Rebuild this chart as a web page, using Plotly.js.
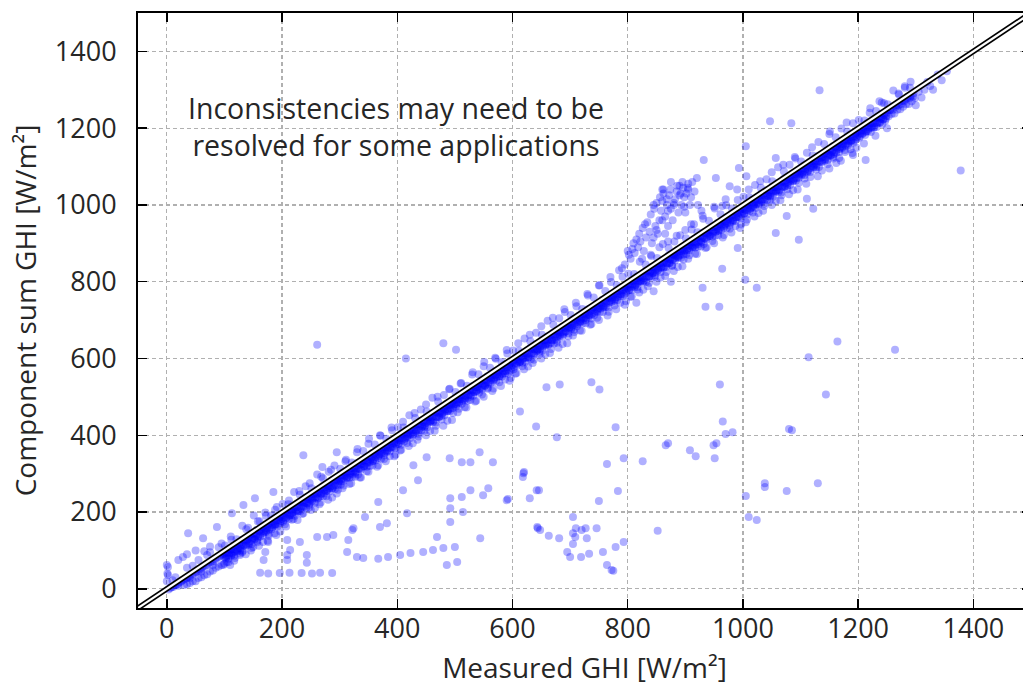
<!DOCTYPE html>
<html>
<head>
<meta charset="utf-8">
<script src="https://cdn.plot.ly/plotly-3.0.1.min.js"></script>
<style>html,body{margin:0;padding:0;overflow:hidden;background:#fff;}#chart{width:1040px;height:686px;}</style>
</head>
<body>
<div id="chart"></div>
<script>
// Measured GHI (x) vs component-sum GHI (y), W/m²
const bandX = [
  3,6,8,11,14,16,19,22,25,27, 30,33,35,38,41,44,47,50,52,55,
  58,61,63,66,69,72,75,78,81,84, 87,90,93,96,99,20,40,60,80,100,
  15,35,55,75,95,10,45,70,90,28, 30,40,50,60,70,80,90,100,55,65,75,85,95,45,35,
  100,105,110,115,120,125,130,135,140,145,150,155,160,165,170,175,180,185,190,195,
  102,107,112,117,122,127,132,137,142,147,152,157,162,167,172,177,182,187,192,197,
  200,205,210,215,220,225,230,235,240,245,250,255,260,265,270,275,280,285,290,295,
  202,207,212,217,222,227,232,237,242,247,252,257,262,267,272,277,282,287,292,297,
  300,305,310,315,320,325,330,335,340,345,350,355,360,365,370,375,380,385,390,395,
  302,307,312,317,322,327,332,337,342,347,352,357,362,367,372,377,382,387,392,397,
  400,405,410,415,420,425,430,435,440,445,450,455,460,465,470,475,480,485,490,495,
  402,407,412,417,422,427,432,437,442,447,452,457,462,467,472,477,482,487,492,497,
  500,505,510,515,520,525,530,535,540,545,550,555,560,565,570,575,580,585,590,595,
  502,507,512,517,522,527,532,537,542,547,552,557,562,567,572,577,582,587,592,597,
  600,605,610,615,620,625,630,635,640,645,650,655,660,665,670,675,680,685,690,695,
  602,607,612,617,622,627,632,637,642,647,652,657,662,667,672,677,682,687,692,697,
  700,705,710,715,720,725,730,735,740,745,750,755,760,765,770,775,780,785,790,795,
  702,707,712,717,722,727,732,737,742,747,752,757,762,767,772,777,782,787,792,797,
  800,805,810,815,820,825,830,835,840,845,850,855,860,865,870,875,880,885,890,895,
  802,807,812,817,822,827,832,837,842,847,852,857,862,867,872,877,882,887,892,897,
  900,905,910,915,920,925,930,935,940,945,950,955,960,965,970,975,980,985,990,995,
  902,907,912,917,922,927,932,937,942,947,952,957,962,967,972,977,982,987,992,997,
  1000,1005,1010,1015,1020,1025,1030,1035,1040,1045,1050,1055,1060,1065,1070,1075,1080,1085,1090,1095,
  1002,1007,1012,1017,1022,1027,1032,1037,1042,1047,1052,1057,1062,1067,1072,1077,1082,1087,1092,1097,
  1100,1105,1110,1115,1120,1125,1130,1135,1140,1145,1150,1155,1160,1165,1170,1175,1180,1185,1190,1195,
  1102,1107,1112,1117,1122,1127,1132,1137,1142,1147,1152,1157,1162,1167,1172,1177,1182,1187,1192,1197,
  1200,1205,1210,1215,1220,1225,1230,1235,1240,1245,1250,1255,1260,1265,1270,1275,1280,1285,1290,1295,
  1202,1207,1212,1217,1222,1227,1232,1237,1242,1247
];
const bandY = [
  -2,2,4,5,9,10,12,17,19,22, 24,27,29,31,35,38,40,44,45,49,
  51,54,57,60,62,65,69,71,73,77, 80,83,86,89,90,8,28,45,62,82,
  30,55,75,95,118,22,60,88,108,83, 10,15,20,30,38,48,58,65,28,35,45,55,62,20,12,
  92,94,101,103,110,118,117,126,129,135,142,143,150,156,157,164,172,175,178,186,
  78,78,86,86,100,99,99,112,115,117,129,125,136,138,148,143,155,165,162,171,
  190,198,198,206,209,212,222,225,231,233,239,247,247,255,261,264,268,278,280,284,
  175,184,182,192,190,201,203,215,211,219,228,224,235,242,242,254,253,261,260,269,
  288,296,300,307,307,314,321,323,333,335,339,342,351,357,358,365,369,376,377,385,
  272,281,290,289,291,302,298,310,319,318,320,333,334,341,339,347,357,358,370,366,
  391,393,402,404,410,412,421,428,428,434,440,447,447,456,459,463,470,477,479,482,
  377,375,384,394,392,400,408,404,413,421,421,435,434,433,447,450,452,463,463,471,
  492,494,501,503,510,518,517,526,529,535,542,543,550,556,557,564,572,575,578,586,
  475,484,482,492,490,501,503,515,511,519,528,524,535,542,542,554,553,561,560,569,
  590,598,598,606,609,612,622,625,631,633,639,647,647,655,661,664,668,678,680,684,
  572,581,590,589,591,602,598,610,619,618,620,633,634,641,639,647,657,658,670,666,
  688,696,700,707,707,714,721,723,733,735,739,742,751,757,758,765,769,776,777,785,
  677,675,684,694,692,700,708,704,713,721,721,735,734,733,747,750,752,763,763,771,
  791,793,802,804,810,812,821,828,828,834,840,847,847,856,859,863,870,877,879,882,
  778,778,786,786,800,799,799,812,815,817,829,825,836,838,848,843,855,865,862,871,
  892,894,901,903,910,918,917,926,929,935,942,943,950,956,957,964,972,975,978,986,
  872,881,890,889,891,902,898,910,919,918,920,933,934,941,939,947,957,958,970,966,
  990,998,998,1006,1009,1012,1022,1025,1031,1033,1039,1047,1047,1055,1061,1064,1068,1078,1080,1084,
  977,975,984,994,992,1000,1008,1004,1013,1021,1021,1035,1034,1033,1047,1050,1052,1063,1063,1071,
  1088,1096,1100,1107,1107,1114,1121,1123,1133,1135,1139,1142,1151,1157,1158,1165,1169,1176,1177,1185,
  1078,1078,1086,1086,1100,1099,1099,1112,1115,1117,1129,1125,1136,1138,1148,1143,1155,1165,1162,1171,
  1191,1193,1202,1204,1210,1212,1221,1228,1228,1234,1240,1247,1247,1256,1259,1263,1270,1277,1279,1282,
  1175,1184,1182,1192,1190,1201,1203,1215,1211,1219
];
// core of the dense band, hugging the 1:1 line and just below it
const bandMidX = [
  101,106,111,116,121,126,131,136,141,146,151,156,161,166,171,176,181,186,191,196,
  201,206,211,216,221,226,231,236,241,246,251,256,261,266,271,276,281,286,291,296,
  301,306,311,316,321,326,331,336,341,346,351,356,361,366,371,376,381,386,391,396,
  401,406,411,416,421,426,431,436,441,446,451,456,461,466,471,476,481,486,491,496,
  501,506,511,516,521,526,531,536,541,546,551,556,561,566,571,576,581,586,591,596,
  601,606,611,616,621,626,631,636,641,646,651,656,661,666,671,676,681,686,691,696,
  701,706,711,716,721,726,731,736,741,746,751,756,761,766,771,776,781,786,791,796,
  801,806,811,816,821,826,831,836,841,846,851,856,861,866,871,876,881,886,891,896,
  901,906,911,916,921,926,931,936,941,946,951,956,961,966,971,976,981,986,991,996,
  1001,1006,1011,1016,1021,1026,1031,1036,1041,1046,1051,1056,1061,1066,1071,1076,1081,1086,1091,1096,
  1101,1106,1111,1116,1121,1126,1131,1136,1141,1146,1151,1156,1161,1166,1171,1176,1181,1186,1191,1196,
  1201,1206,1211,1216,1221,1226,1231,1236,1241,1246,1251,1256,1261,1266,1271,1276,1281,1286,1291,1296,
  103,108,113,118,123,128,133,138,143,148,153,158,163,168,173,178,183,188,193,198,
  203,208,213,218,223,228,233,238,243,248,253,258,263,268,273,278,283,288,293,298,
  303,308,313,318,323,328,333,338,343,348,353,358,363,368,373,378,383,388,393,398,
  403,408,413,418,423,428,433,438,443,448,453,458,463,468,473,478,483,488,493,498,
  503,508,513,518,523,528,533,538,543,548,553,558,563,568,573,578,583,588,593,598,
  603,608,613,618,623,628,633,638,643,648,653,658,663,668,673,678,683,688,693,698,
  703,708,713,718,723,728,733,738,743,748,753,758,763,768,773,778,783,788,793,798,
  803,808,813,818,823,828,833,838,843,848,853,858,863,868,873,878,883,888,893,898,
  903,908,913,918,923,928,933,938,943,948,953,958,963,968,973,978,983,988,993,998,
  1003,1008,1013,1018,1023,1028,1033,1038,1043,1048,1053,1058,1063,1068,1073,1078,1083,1088,1093,1098,
  1103,1108,1113,1118,1123,1128,1133,1138,1143,1148,1153,1158,1163,1168,1173,1178,1183,1188,1193,1198,
  1203,1208,1213,1218,1223,1228,1233,1238,1243,1248,1253,1258,1263,1268,1273,1278,1283,1288,1293,1298
];
const bandMidY = [
  96,103,104,112,115,118,128,131,134,142,145,153,153,161,167,169,175,183,186,188,
  194,202,205,213,213,221,227,230,238,239,246,248,257,260,268,271,274,282,283,290,
  296,303,304,312,315,318,328,331,334,342,345,353,353,361,367,369,375,383,386,388,
  394,402,405,413,413,421,427,430,438,439,446,448,457,460,468,471,474,482,483,490,
  496,503,504,512,515,518,528,531,534,542,545,553,553,561,567,569,575,583,586,588,
  594,602,605,613,613,621,627,630,638,639,646,648,657,660,668,671,674,682,683,690,
  696,703,704,712,715,718,728,731,734,742,745,753,753,761,767,769,775,783,786,788,
  794,802,805,813,813,821,827,830,838,839,846,848,857,860,868,871,874,882,883,890,
  896,903,904,912,915,918,928,931,934,942,945,953,953,961,967,969,975,983,986,988,
  994,1002,1005,1013,1013,1021,1027,1030,1038,1039,1046,1048,1057,1060,1068,1071,1074,1082,1083,1090,
  1096,1103,1104,1112,1115,1118,1128,1131,1134,1142,1145,1153,1153,1161,1167,1169,1175,1183,1186,1188,
  1194,1202,1205,1213,1213,1221,1227,1230,1238,1239,1246,1248,1257,1260,1268,1271,1274,1282,1283,1290,
  81,88,89,97,98,105,113,116,119,127,130,133,143,146,152,154,160,168,168,176,
  179,187,190,198,201,203,212,214,223,225,231,237,238,248,249,256,262,263,270,278,
  281,288,289,297,298,305,313,316,319,327,330,333,343,346,352,354,360,368,368,376,
  379,387,390,398,401,403,412,414,423,425,431,437,438,448,449,456,462,463,470,478,
  481,488,489,497,498,505,513,516,519,527,530,533,543,546,552,554,560,568,568,576,
  579,587,590,598,601,603,612,614,623,625,631,637,638,648,649,656,662,663,670,678,
  681,688,689,697,698,705,713,716,719,727,730,733,743,746,752,754,760,768,768,776,
  779,787,790,798,801,803,812,814,823,825,831,837,838,848,849,856,862,863,870,878,
  881,888,889,897,898,905,913,916,919,927,930,933,943,946,952,954,960,968,968,976,
  979,987,990,998,1001,1003,1012,1014,1023,1025,1031,1037,1038,1048,1049,1056,1062,1063,1070,1078,
  1081,1088,1089,1097,1098,1105,1113,1116,1119,1127,1130,1133,1143,1146,1152,1154,1160,1168,1168,1176,
  1179,1187,1190,1198,1201,1203,1212,1214,1223,1225,1231,1237,1238,1248,1249,1256,1262,1263,1270,1278
];
// outer layer of the dense band, further below the 1:1 line
const bandLowX = [
  104,109,114,119,124,129,134,139,144,149,154,159,164,169,174,179,184,189,194,199,
  204,209,214,219,224,229,234,239,244,249,254,259,264,269,274,279,284,289,294,299,
  304,309,314,319,324,329,334,339,344,349,354,359,364,369,374,379,384,389,394,399,
  404,409,414,419,424,429,434,439,444,449,454,459,464,469,474,479,484,489,494,499,
  504,509,514,519,524,529,534,539,544,549,554,559,564,569,574,579,584,589,594,599,
  604,609,614,619,624,629,634,639,644,649,654,659,664,669,674,679,684,689,694,699,
  704,709,714,719,724,729,734,739,744,749,754,759,764,769,774,779,784,789,794,799,
  804,809,814,819,824,829,834,839,844,849,854,859,864,869,874,879,884,889,894,899,
  904,909,914,919,924,929,934,939,944,949,954,959,964,969,974,979,984,989,994,999,
  1004,1009,1014,1019,1024,1029,1034,1039,1044,1049,1054,1059,1064,1069,1074,1079,1084,1089,1094,1099,
  1104,1109,1114,1119,1124,1129,1134,1139,1144,1149,1154,1159,1164,1169,1174,1179,1184,1189,1194,1199,
  1204,1209,1214,1219,1224,1229,1234,1239,1244,1249,
  107,117,127,137,147,157,167,177,187,197, 207,217,227,237,247,257,267,277,287,297,
  307,317,327,337,347,357,367,377,387,397, 407,417,427,437,447,457,467,477,487,497,
  507,517,527,537,547,557,567,577,587,597, 607,617,627,637,647,657,667,677,687,697,
  707,717,727,737,747,757,767,777,787,797, 807,817,827,837,847,857,867,877,887,897,
  907,917,927,937,947,957,967,977,987,997, 1007,1017,1027,1037,1047,1057,1067,1077,1087,1097,
  1107,1117,1127,1137,1147,1157,1167,1177,1187,1197
];
const bandLowY = [
  86,94,93,102,105,113,112,125,124,131,137,138,149,150,158,159,166,167,179,182,
  187,194,192,201,204,213,215,224,223,232,236,239,250,247,258,260,267,268,279,281,
  286,294,293,302,305,313,312,325,324,331,337,338,349,350,358,359,366,367,379,382,
  387,394,392,401,404,413,415,424,423,432,436,439,450,447,458,460,467,468,479,481,
  486,494,493,502,505,513,512,525,524,531,537,538,549,550,558,559,566,567,579,582,
  587,594,592,601,604,613,615,624,623,632,636,639,650,647,658,660,667,668,679,681,
  686,694,693,702,705,713,712,725,724,731,737,738,749,750,758,759,766,767,779,782,
  787,794,792,801,804,813,815,824,823,832,836,839,850,847,858,860,867,868,879,881,
  886,894,893,902,905,913,912,925,924,931,937,938,949,950,958,959,966,967,979,982,
  987,994,992,1001,1004,1013,1015,1024,1023,1032,1036,1039,1050,1047,1058,1060,1067,1068,1079,1081,
  1086,1094,1093,1102,1105,1113,1112,1125,1124,1131,1137,1138,1149,1150,1158,1159,1166,1167,1179,1182,
  1187,1194,1192,1201,1204,1213,1215,1224,1223,1232,
  69,73,92,90,106,121,122,138,145,149, 162,180,179,197,212,211,225,241,238,258,
  269,273,292,290,306,321,322,338,345,349, 362,380,379,397,412,411,425,441,438,458,
  469,473,492,490,506,521,522,538,545,549, 562,580,579,597,612,611,625,641,638,658,
  669,673,692,690,706,721,722,738,745,749, 762,780,779,797,812,811,825,841,838,858,
  869,873,892,890,906,921,922,938,945,949, 962,980,979,997,1012,1011,1025,1041,1038,1058,
  1069,1073,1092,1090,1106,1121,1122,1138,1145,1149
];
// light scatter just above the 1:1 line
const aboveX = [
  101,111,121,131,141,151,161,171,181,191, 201,211,221,231,241,251,261,271,281,291,
  301,311,321,331,341,351,361,371,381,391, 401,411,421,431,441,451,461,471,481,491,
  501,511,521,531,541,551,561,571,581,591, 601,611,621,631,641,651,661,671,681,691,
  701,711,721,731,741,751,761,771,781,791, 801,811,821,831,841,851,861,871,881,891,
  901,911,921,931,941,951,961,971,981,991, 1001,1011,1021,1031,1041,1051,1061,1071,1081,1091,
  1101,1111,1121,1131,1141,1151,1161,1171,1181,1191, 1201,1211,1221,1231,1241,1251,1261,1271,1281,1291
];
const aboveY = [
  113,136,129,164,159,191,176,199,191,213, 221,220,252,245,267,262,298,288,305,321,
  313,336,329,364,359,391,376,399,391,413, 421,420,452,445,467,462,498,488,505,521,
  513,536,529,564,559,591,576,599,591,613, 621,620,652,645,667,662,698,688,705,721,
  713,736,729,764,759,791,776,799,791,813, 821,820,852,845,867,862,898,888,905,921,
  913,936,929,964,959,991,976,999,991,1013, 1021,1020,1052,1045,1067,1062,1098,1088,1105,1121,
  1113,1136,1129,1164,1159,1191,1176,1199,1191,1213, 1221,1220,1252,1245,1267,1262,1298,1288,1305,1321
];
const spreadX = [
  0,1,2,0,2,20,35,50,65,75,37,63,87,168,209,
  162,176,196,213,234,252,266,287,
  104,118,131,146,160,175,190,112,138,158,172,188,150,171,176,113,127,133,153,185,113,110,98,
  205,220,235,250,265,280,295,212,230,248,268,285,209,214,209,231,237,270,295,261,278,289,243,243,261,
  305,320,335,350,365,380,395,310,330,350,370,390,315,324,313,330,341,367,384,370,382,344,322,367,
  405,420,435,450,465,480,495,410,430,450,470,490,405,423,445,462,480,469,417,410,436,428,451,491,492,492,492,486,415,480,
  505,520,535,550,565,580,595,510,530,550,570,590,500,504,544,512,527,549,558,514,543,566,512,527,590,502,
  605,620,635,650,665,680,695,610,630,650,670,690,630,644,619,642,620,618,592,613,641,677,659,682,648,643,646,663,681,
  705,720,735,750,765,780,795,710,730,750,770,790,705,709,705,710,720,727,746,729,705,700,695,719,733,757,764,772,775,779,793,750,764,783,779,793,737,751,
  805,820,835,850,865,880,895,815,845,875,826,852,870,866,
  905,920,935,950,965,980,995,910,930,950,970,990,918,908,949,954,951,960,965,970,982,930,935,959,964,991,932,953,977,964,
  1005,1020,1035,1050,1065,1080,1095,1010,1030,1050,1070,1090,1005,1010,1024,1038,1038,1076,1080,1085,1004,1024,1057,1097,1076,1005,1047,1057,1084,1006,993,
  1110,1130,1150,1170,1190,1120,1150,1180,1114,1164,1144,1130,1111,1122,1133,1191,1162,
  1210,1230,1250,1220,1245,1270,1290,1305,1315,1325,1338,1354,1345,1378,1264,1213,1237,1281,1310,1320,1330,1300
];
const spreadY = [
  20,40,57,62,36,75,90,100,98,110,145,132,161,75,75,
  42,40,41,42,41,40,42,41,
  70,80,95,100,112,125,140,128,155,176,190,206,109,96,122,93,88,218,236,252,197,62,62,
  168,182,195,205,220,232,248,230,255,275,292,310,127,101,88,122,348,317,356,135,135,140,68,88,636,
  262,275,290,305,318,332,345,332,356,378,400,420,127,158,96,83,80,78,83,161,171,187,153,226,
  360,372,388,400,412,425,440,435,458,480,500,520,88,93,96,101,106,135,197,257,283,322,343,340,236,210,174,62,600,640,
  460,472,488,500,515,528,542,535,558,580,602,622,109,70,132,239,257,244,262,200,356,330,330,330,231,623,
  560,572,588,600,614,628,640,640,662,684,706,728,236,158,301,257,304,291,234,462,423,395,525,532,153,161,257,138,132,
  660,672,688,700,712,728,740,745,768,790,812,835,117,135,145,158,153,158,158,132,187,83,96,83,91,96,62,49,47,109,122,229,325,255,421,340,538,519,
  760,772,788,800,815,828,840,745,775,800,332,151,379,374,
  860,872,888,900,915,928,940,950,972,995,1015,1040,345,361,374,379,340,532,436,403,408,784,735,735,834,888,1117,1070,1049,997,
  955,970,985,1000,1012,1028,1040,1040,1062,1085,1105,1125,242,187,179,275,265,255,416,413,805,784,927,909,971,1153,1218,1122,1213,1075,1096,
  1055,1075,1095,1115,1135,1150,1185,1215,603,644,506,275,1016,990,1299,1130,1109,
  1160,1180,1200,1240,1265,1290,1305,1295,1300,1310,1340,1348,1325,1090,623,1117,1270,1309,1280,1320,1300,1260
];
// group of points above the line between 780 and 930 W/m²
const clusterX = [
  805,812,818,822,828,832,838,842,848,852,855,858,860,862,865,868,870,872,875,878,
  882,885,888,890,893,896,898,902,905,908,912,800,810,825,840,855,870,885,900,915,920,830,845,860,880,
  785,795,802,808,815,820,826,834,840,846,850,856,862,868,874,880,886,892,898,904,
  910,916,922,928,850,860,870,880,890,900,845,865,875,895,905
];
const clusterY = [
  860,875,890,905,880,915,930,900,945,925,960,985,1010,1040,970,1000,945,1025,990,960,
  1015,1035,980,1050,1000,1045,1020,1030,1055,1000,1060,880,900,860,870,890,905,920,935,950,1070,950,1000,1040,870,
  830,845,870,885,910,925,940,955,975,990,1005,1020,1030,1015,1040,1000,1050,1030,995,1045,
  1020,1035,1000,985,935,960,985,1005,1025,980,915,925,1060,1060,1040
];

const axisTicks = [0,200,400,600,800,1000,1200,1400];
const oneToOne = [-50,1500];
const noteText = 'Inconsistencies may need to be<br>resolved for some applications';
const noteAnchor = {x:397, y:1204};
const xTitle = 'Measured GHI [W/m²]';
const yTitle = 'Component sum GHI [W/m²]';

const xs = bandX.concat(bandMidX, bandLowX, aboveX, spreadX, clusterX);
const ys = bandY.concat(bandMidY, bandLowY, aboveY, spreadY, clusterY);

const traces = [
  {type:'scatter', mode:'markers', x:xs, y:ys, hoverinfo:'skip',
   marker:{symbol:'circle', size:8, color:'rgba(0,0,255,0.31)', line:{width:0}}},
  {type:'scatter', mode:'lines', x:oneToOne, y:oneToOne, hoverinfo:'skip',
   line:{color:'#000', width:5.5}},
  {type:'scatter', mode:'lines', x:oneToOne, y:oneToOne, hoverinfo:'skip',
   line:{color:'#fff', width:2.2}}
];

const fontFam = '"Open Sans", "Noto Sans", sans-serif';
const txt = '#262626';
const common = {
  tickmode:'array', tickvals:axisTicks, ticks:'inside', ticklen:9, tickwidth:1.5, tickcolor:'#000',
  mirror:'allticks', showline:true, linecolor:'#000', linewidth:2,
  showgrid:true, gridcolor:'#b0b0b0', griddash:'4px,3px', gridwidth:1.3, zeroline:false,
  tickfont:{family:fontFam, size:27, color:txt}, automargin:false
};

const layout = {
  width:1040, height:686,
  margin:{l:138, r:9, t:13, b:78},
  paper_bgcolor:'#fff', plot_bgcolor:'#fff', showlegend:false,
  font:{family:fontFam, size:27, color:txt},
  xaxis:Object.assign({}, common, {range:[-50,1500], ticklabelstandoff:-4,
    title:{text:xTitle, standoff:16, font:{family:fontFam, size:28, color:txt}}}),
  yaxis:Object.assign({}, common, {range:[-50,1500], ticklabelstandoff:14,
    title:{text:yTitle, standoff:10, font:{family:fontFam, size:28, color:txt}}}),
  annotations:[{x:noteAnchor.x, y:noteAnchor.y, xref:'x', yref:'y',
    text:noteText, showarrow:false, xanchor:'center', yanchor:'middle', align:'center',
    font:{family:fontFam, size:28.5, color:txt}}]
};

Plotly.newPlot('chart', traces, layout, {displayModeBar:false, staticPlot:true});
</script>
</body>
</html>
